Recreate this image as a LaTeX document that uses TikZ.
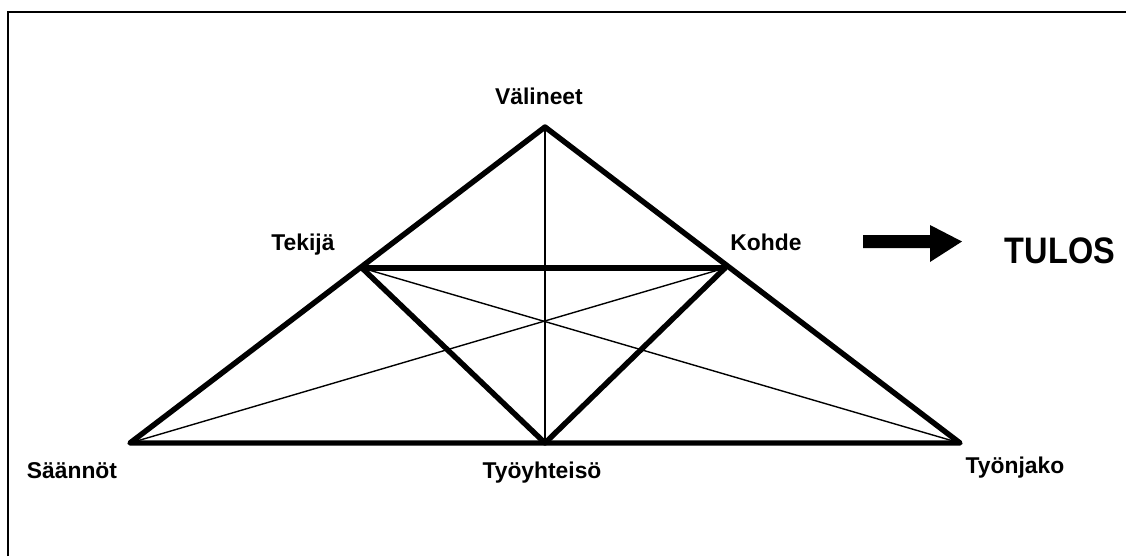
\documentclass[tikz,border=0pt]{standalone}
\usepackage{fontspec}
\setmainfont{Liberation Sans}
\usepackage{tikz}
\usetikzlibrary{positioning}

\tikzset{
  heavy/.style={line width=3.1pt,line cap=round,line join=round},
  light/.style={line width=0.8pt},
  lbl/.style={font=\fontsize{13}{15}\selectfont\bfseries,anchor=base,inner sep=0pt}
}

\begin{document}
\begin{tikzpicture}[x=0.02cm,y=-0.02cm]
  \useasboundingbox (0,0) rectangle (1126,556);
  % frame
  \coordinate (frameBL) at (8,556);
  \coordinate (frameTL) at (8,12);
  \coordinate (frameTR) at (1126,12);
  \draw[line width=1.1pt] (frameBL) -- (frameTL) -- (frameTR);
  % vertices
  \coordinate (V) at (545,127);
  \coordinate (T) at (362,268);
  \coordinate (K) at (725,268);
  \coordinate (S) at (130,443);
  \coordinate (Y) at (545,443);
  \coordinate (J) at (960,443);
  % thin lines
  \draw[light] (V) -- (Y);
  \draw[light] (T) -- (J);
  \draw[light] (K) -- (S);
  % thick lines
  \draw[heavy] (S) -- (V) -- (J) -- cycle;
  \draw[heavy] (T) -- (K);
  \draw[heavy] (T) -- (Y) -- (K);
  % labels
  \node[lbl] (valineet) at (539,104) {Välineet};
  \node[lbl] (tekija) at (303,250) {Tekijä};
  \node[lbl] (kohde) at (766,250) {Kohde};
  \node[lbl] (saannot) at (72,478) {Säännöt};
  \node[lbl] (tyoyhteiso) at (542,478) {Työyhteisö};
  \node[lbl] (tyonjako) at (1015,473) {Työnjako};
  % result
  \fill (863,235) -- (930,235) -- (930,225) -- (962,241.5) -- (930,262)
    -- (930,248) -- (863,248) -- cycle;
  \node[lbl,font=\fontsize{21}{24}\selectfont\bfseries,xscale=0.88] (tulos)
    at (1060,263) {TULOS};
\end{tikzpicture}
\end{document}
